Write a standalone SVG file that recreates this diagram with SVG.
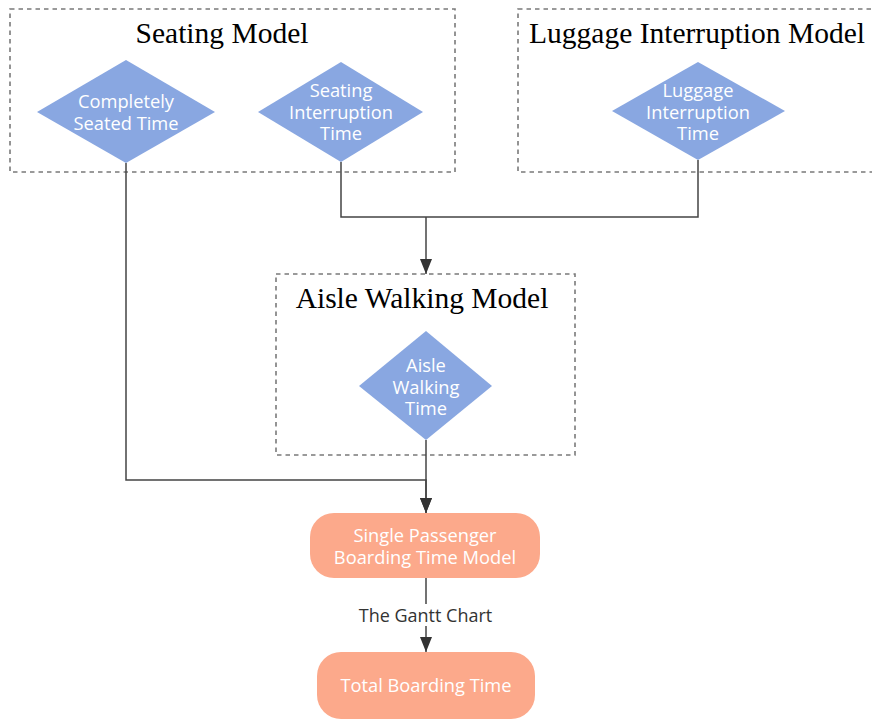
<svg xmlns="http://www.w3.org/2000/svg" width="872" height="722" viewBox="0 0 872 722">
<style>
.box{fill:none;stroke:#7a7a7a;stroke-width:1.6;stroke-dasharray:4.5 4}
.title{font-family:"Liberation Serif","Times New Roman",serif;font-size:29.5px;fill:#000;text-anchor:middle}
.dia{fill:#89a7e1}
.term{fill:#fca98b}
.lbl{font-family:"Open Sans","Noto Sans",sans-serif;font-size:18.3px;font-weight:500;fill:#fff;text-anchor:middle}
.edge{fill:none;stroke:#444;stroke-width:1.5}
.elbl{font-family:"Open Sans","Noto Sans",sans-serif;font-size:18px;fill:#333;text-anchor:middle}
</style>
<defs>
<marker id="arr" viewBox="0 0 15 12" refX="15" refY="6" markerWidth="15" markerHeight="12" markerUnits="userSpaceOnUse" orient="auto">
<path d="M0,0 L15,6 L0,12 Z" fill="#333"/>
</marker>
</defs>
<rect width="872" height="722" fill="#fff"/>
<g id="seating-model">
<rect class="box" x="10" y="9" width="445" height="163"/>
<text class="title" x="222" y="43">Seating Model</text>
</g>
<g id="luggage-model">
<rect class="box" x="518" y="9" width="360" height="163"/>
<text class="title" x="697" y="43">Luggage Interruption Model</text>
</g>
<g id="aisle-model">
<rect class="box" x="276" y="274" width="299" height="181"/>
<text class="title" x="422" y="308">Aisle Walking Model</text>
</g>
<g id="connectors">
<path class="edge" d="M126,163 V480 H426 V513" marker-end="url(#arr)"/>
<path class="edge" d="M341,162 V217 H698 V160"/>
<path class="edge" d="M426,217 V274" marker-end="url(#arr)"/>
<path class="edge" d="M426,440 V513" marker-end="url(#arr)"/>
<path class="edge" d="M426,578 V652" marker-end="url(#arr)"/>
<rect x="354" y="604" width="144" height="22" fill="#fff"/>
<text class="elbl" x="425.5" y="621.5">The Gantt Chart</text>
</g>
<g id="completely-seated-time">
<polygon class="dia" points="126,60 215,112 126,163 37,112"/>
<text class="lbl" x="126" y="108">Completely</text>
<text class="lbl" x="126" y="130">Seated Time</text>
</g>
<g id="seating-interruption-time">
<polygon class="dia" points="341,62 423,112 341,162 258,112"/>
<text class="lbl" x="341" y="97">Seating</text>
<text class="lbl" x="341" y="118.5">Interruption</text>
<text class="lbl" x="341" y="140">Time</text>
</g>
<g id="luggage-interruption-time">
<polygon class="dia" points="698,62 785,111 698,160 612,111"/>
<text class="lbl" x="698" y="97">Luggage</text>
<text class="lbl" x="698" y="118.5">Interruption</text>
<text class="lbl" x="698" y="140">Time</text>
</g>
<g id="aisle-walking-time">
<polygon class="dia" points="426,331 492,386 426,440 359,386"/>
<text class="lbl" x="426" y="372">Aisle</text>
<text class="lbl" x="426" y="393.5">Walking</text>
<text class="lbl" x="426" y="415">Time</text>
</g>
<g id="single-passenger">
<rect class="term" x="310" y="513" width="230" height="65" rx="24"/>
<text class="lbl" x="425" y="542">Single Passenger</text>
<text class="lbl" x="425" y="563.5">Boarding Time Model</text>
</g>
<g id="total-boarding-time">
<rect class="term" x="317" y="652" width="218" height="67" rx="24"/>
<text class="lbl" x="426" y="692">Total Boarding Time</text>
</g>
</svg>
